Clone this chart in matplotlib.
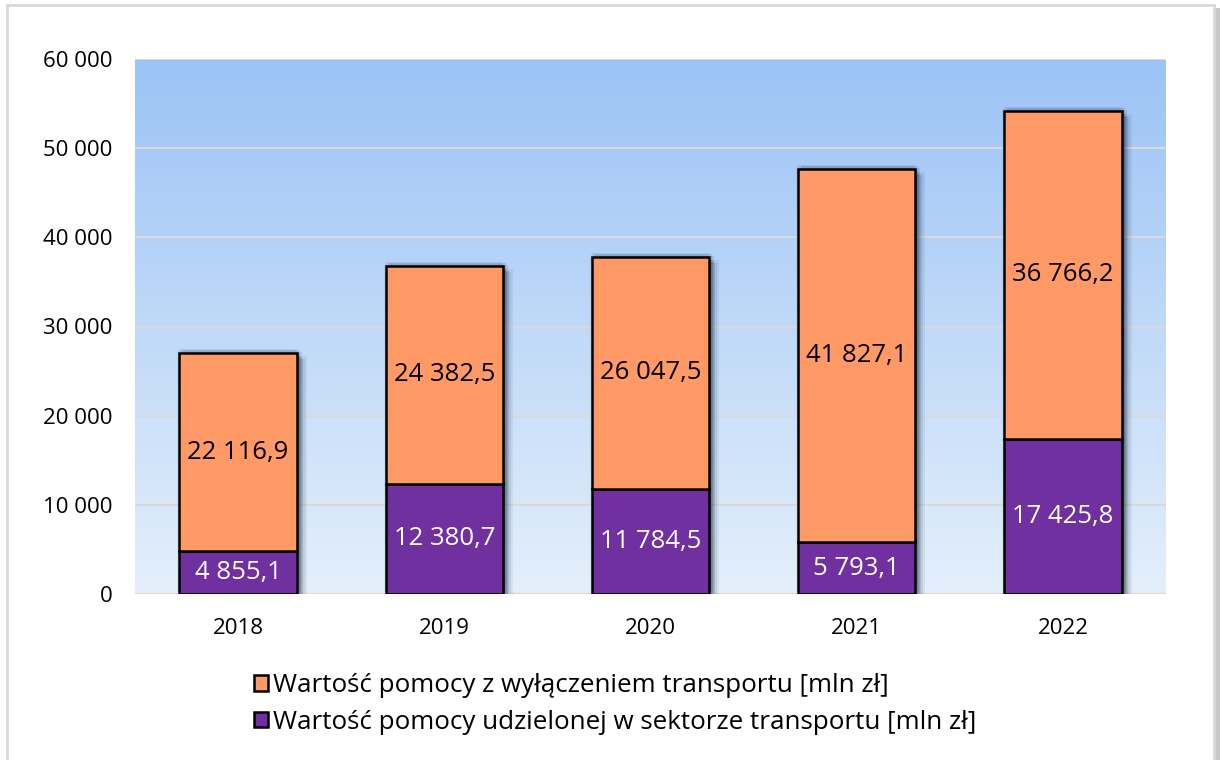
import matplotlib
matplotlib.use("Agg")
import matplotlib.pyplot as plt
from matplotlib.patches import Rectangle
from matplotlib.transforms import ScaledTranslation
import numpy as np

years = ["2018", "2019", "2020", "2021", "2022"]
transport = [4855.1, 12380.7, 11784.5, 5793.1, 17425.8]
excl_transport = [22116.9, 24382.5, 26047.5, 41827.1, 36766.2]
label_excl = "Wartość pomocy z wyłączeniem transportu [mln zł]"
label_trans = "Wartość pomocy udzielonej w sektorze transportu [mln zł]"
yticks = [0, 10000, 20000, 30000, 40000, 50000, 60000]

def fmt(v, dec=True):
    if dec:
        s = f"{v:,.1f}".replace(",", " ").replace(".", ",")
    else:
        s = f"{v:,.0f}".replace(",", " ")
    return s

plt.rcParams['font.family'] = ['Open Sans', 'DejaVu Sans']

W, H = 1220, 760
fig = plt.figure(figsize=(W/100, H/100), dpi=100)
fig.patch.set_facecolor("white")

# outer frame with shadow
fig.patches.append(Rectangle((10/W, 0/H), 1210/W, 752/H, transform=fig.transFigure,
                             facecolor="#C8C8C8", edgecolor="none", zorder=0))
fig.patches.append(Rectangle((7/W, -5/H), 1207/W, 760/H, transform=fig.transFigure,
                             facecolor="white", edgecolor="#D9D9D9", linewidth=2, zorder=1))

ax = fig.add_axes([135/W, 1 - 594/H, (1166-135)/W, (594-59)/H])
ax.set_zorder(2)
ax.set_xlim(-0.5, 4.5)
ax.set_ylim(0, 60000)

# gradient background
grad = np.linspace(0, 1, 256).reshape(-1, 1)
top = np.array([0x9B, 0xC3, 0xF5]) / 255
bot = np.array([0xE4, 0xEF, 0xFB]) / 255
img = top[None, None, :] * (1 - grad[:, :, None]) + bot[None, None, :] * grad[:, :, None]
ax.imshow(img, extent=[-0.5, 4.5, 0, 60000], aspect="auto", origin="upper", zorder=0)

for y in yticks:
    ax.axhline(y, color="#D9D9D9", linewidth=1.5, zorder=1)

x = np.arange(len(years))
bw = 0.57

b1 = ax.bar(x, transport, bw, color="#7030A0", edgecolor="black", linewidth=1.8,
            zorder=3, label=label_trans)
b2 = ax.bar(x, excl_transport, bw, bottom=transport, color="#FF9966", edgecolor="black",
            linewidth=1.8, zorder=3, label=label_excl)
for i in range(len(years)):
    total = transport[i] + excl_transport[i]
    for dx, dy, a in [(2, -2, 0.22), (4, -3, 0.18), (6, -5, 0.14), (8, -6, 0.09),
                      (3, 3, 0.14), (10, -3, 0.07), (0, 4, 0.10), (5, 1, 0.12), (-2, 2, 0.06)]:
        s = Rectangle((x[i] - bw/2, 0), bw, total, facecolor="#1a2a40", edgecolor="none",
                      alpha=a, zorder=2,
                      transform=ax.transData + ScaledTranslation(dx/100, dy/100, fig.dpi_scale_trans))
        ax.add_patch(s)
    ax.text(x[i], transport[i]/2, fmt(transport[i]), ha="center", va="center",
            color="white", fontsize=18.5, zorder=5)
    ax.text(x[i], transport[i] + excl_transport[i]/2, fmt(excl_transport[i]), ha="center",
            va="center", color="black", fontsize=18.5, zorder=5)

ax.set_yticks(yticks)
ax.set_yticklabels([fmt(v, dec=False) for v in yticks], fontsize=16)
ax.set_xticks(x)
ax.set_xticklabels(years, fontsize=16)
ax.tick_params(axis="both", length=0)
ax.tick_params(axis="y", pad=16)
ax.tick_params(axis="x", pad=17)
for s in ax.spines.values():
    s.set_visible(False)

leg = fig.legend([b2, b1], [label_excl, label_trans], loc="upper left",
                 bbox_to_anchor=(254/W, 1 - 673/H), frameon=False, fontsize=18.7,
                 handlelength=0.55, handleheight=0.55, handletextpad=0.2, labelspacing=0.45,
                 borderaxespad=0, borderpad=0)

fig.savefig("out.png", dpi=100)
